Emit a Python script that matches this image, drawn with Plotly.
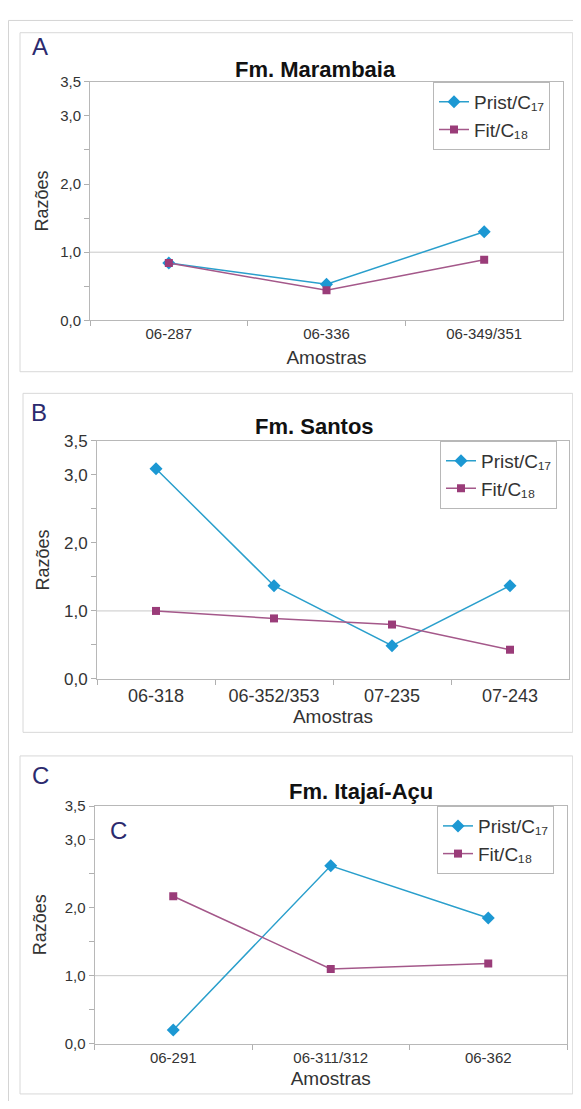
import plotly.graph_objects as go

# The page body keeps its default 8px margin, so the figure is 16px smaller
# than the window and every reference pixel position is shifted by 8px.
WIN_W, WIN_H = 581, 1109
OFF = 8
W, H = WIN_W - 2 * OFF, WIN_H - 2 * OFF

# ---- data ----
cats_a = ["06-287", "06-336", "06-349/351"]
prist_a = [0.84, 0.53, 1.30]
fit_a = [0.84, 0.44, 0.89]

cats_b = ["06-318", "06-352/353", "07-235", "07-243"]
prist_b = [3.09, 1.37, 0.49, 1.37]
fit_b = [1.00, 0.89, 0.80, 0.43]

cats_c = ["06-291", "06-311/312", "06-362"]
prist_c = [0.20, 2.62, 1.85]
fit_c = [2.17, 1.10, 1.18]

titles = ["Fm. Marambaia", "Fm. Santos", "Fm. Itajaí-Açu"]
letters = ["A", "B", "C"]
ytick_vals = [0, 1, 2, 3, 3.5]
ytick_text = ["0,0", "1,0", "2,0", "3,0", "3,5"]
yminor_vals = [0.5, 1.5, 2.5]
name_prist = "Prist/C₁₇"
name_fit = "Fit/C₁₈"
x_title = "Amostras"
y_title = "Razões"

BLUE = "#1c98d3"
BLUE_LINE = "#2a9fcc"
PURPLE = "#9a3c79"
PURPLE_LINE = "#a4588a"
LETTER = "#2b2a6e"
TXT = "#333333"
FONT = "Liberation Sans, Arial, sans-serif"


def px_x(x):
    return (x - OFF) / W


def px_y(y):
    return 1 - (y - OFF) / H


fig = go.Figure()

panels = [
    dict(cats=cats_a, prist=prist_a, fit=fit_a, xd=(90, 563), yd=(74, 316.7),
         leg=(433, 74), xfs=15, yfs=15, ttl=(315, 61), let=(40, 38),
         ystand=6, xstand=9, box=(20, 24, 580, 369)),
    dict(cats=cats_b, prist=prist_b, fit=fit_b, xd=(97, 569), yd=(439.3, 681.7),
         leg=(440, 439.3), xfs=18, yfs=17, ttl=(314, 425), let=(39, 410),
         ystand=9, xstand=4, box=(23, 391, 580, 736)),
    dict(cats=cats_c, prist=prist_c, fit=fit_c, xd=(94.5, 567), yd=(811, 1052.7),
         leg=(437, 811), xfs=15, yfs=15, ttl=(361, 796), let=(40, 780),
         ystand=13, xstand=7, box=(20, 760, 580, 1104)),
]

annotations = []
shapes = [dict(type="rect", xref="paper", yref="paper",
               x0=px_x(8.5), x1=px_x(600), y0=px_y(1130), y1=px_y(11.5),
               line=dict(color="#d4d4d4", width=1), fillcolor="rgba(0,0,0,0)")]

layout_axes = {}
for i, p in enumerate(panels):
    k = "" if i == 0 else str(i + 1)
    leg = "legend" if i == 0 else f"legend{i + 1}"
    fig.add_trace(go.Scatter(
        x=p["cats"], y=p["prist"], name=name_prist, mode="lines+markers",
        line=dict(color=BLUE_LINE, width=1.5),
        marker=dict(symbol="diamond", size=10, color=BLUE),
        xaxis="x" + k, yaxis="y" + k, legend=leg))
    fig.add_trace(go.Scatter(
        x=p["cats"], y=p["fit"], name=name_fit, mode="lines+markers",
        line=dict(color=PURPLE_LINE, width=1.5),
        marker=dict(symbol="square", size=8, color=PURPLE),
        xaxis="x" + k, yaxis="y" + k, legend=leg))

    layout_axes["xaxis" + k] = dict(
        domain=[px_x(p["xd"][0]), px_x(p["xd"][1])], anchor="y" + k,
        type="category", range=[-0.5, len(p["cats"]) - 0.5],
        tickson="boundaries", ticks="outside", ticklen=5, tickcolor="#b0b0b0",
        showline=True, linecolor="#b8b8b8", mirror=True, showgrid=False,
        title=dict(text=x_title, standoff=p["xstand"],
                   font=dict(size=19, color=TXT, family=FONT)),
        tickfont=dict(size=p["xfs"], color=TXT, family=FONT), fixedrange=True)
    layout_axes["yaxis" + k] = dict(
        domain=[px_y(p["yd"][1]), px_y(p["yd"][0])], anchor="x" + k,
        range=[0, 3.5], tickmode="array", tickvals=ytick_vals, ticktext=ytick_text,
        ticks="outside", ticklen=5, tickcolor="#b0b0b0",
        minor=dict(tickmode="array", tickvals=yminor_vals, ticks="outside",
                   ticklen=5, tickcolor="#b0b0b0", showgrid=False),
        showline=True, linecolor="#b8b8b8", mirror=True, showgrid=False,
        zeroline=False,
        title=dict(text=y_title, standoff=p["ystand"],
                   font=dict(size=18, color=TXT, family=FONT)),
        tickfont=dict(size=p["yfs"], color=TXT, family=FONT), fixedrange=True)

    layout_axes[leg] = dict(
        x=px_x(p["leg"][0]), y=px_y(p["leg"][1]), xanchor="left", yanchor="top",
        bgcolor="white", bordercolor="#b8b8b8", borderwidth=1,
        font=dict(size=19, color=TXT, family=FONT), tracegroupgap=0,
        itemwidth=30)

    # gridline at 1,0
    shapes.append(dict(type="line", xref="x" + k + " domain", yref="y" + k,
                       x0=0, x1=1, y0=1, y1=1,
                       line=dict(color="#c8c8c8", width=1), layer="below"))
    bx0, by0, bx1, by1 = p["box"]
    shapes.append(dict(type="rect", xref="paper", yref="paper",
                       x0=px_x(bx0), x1=min(px_x(bx1), 0.9995),
                       y0=px_y(by1), y1=px_y(by0),
                       line=dict(color="#d8d8d8", width=1),
                       fillcolor="rgba(0,0,0,0)", layer="below"))

    annotations.append(dict(text=f"<b>{titles[i]}</b>", x=px_x(p["ttl"][0]),
                            y=px_y(p["ttl"][1]), xref="paper", yref="paper",
                            showarrow=False, xanchor="center", yanchor="middle",
                            font=dict(size=22, color="#111111", family=FONT)))
    annotations.append(dict(text=letters[i], x=px_x(p["let"][0]),
                            y=px_y(p["let"][1]), xref="paper", yref="paper",
                            showarrow=False, xanchor="center", yanchor="middle",
                            font=dict(size=24, color=LETTER, family=FONT)))

# inner "C" label in panel C
annotations.append(dict(text="C", x=px_x(118.5), y=px_y(836), xref="paper",
                        yref="paper", showarrow=False, xanchor="center",
                        yanchor="middle",
                        font=dict(size=24, color=LETTER, family=FONT)))

fig.update_layout(
    width=W, height=H, margin=dict(l=0, r=0, t=0, b=0),
    paper_bgcolor="white", plot_bgcolor="white",
    font=dict(family=FONT, color=TXT),
    showlegend=True, annotations=annotations, shapes=shapes,
    **layout_axes)

fig.write_html("out.html", config={"displayModeBar": False})
